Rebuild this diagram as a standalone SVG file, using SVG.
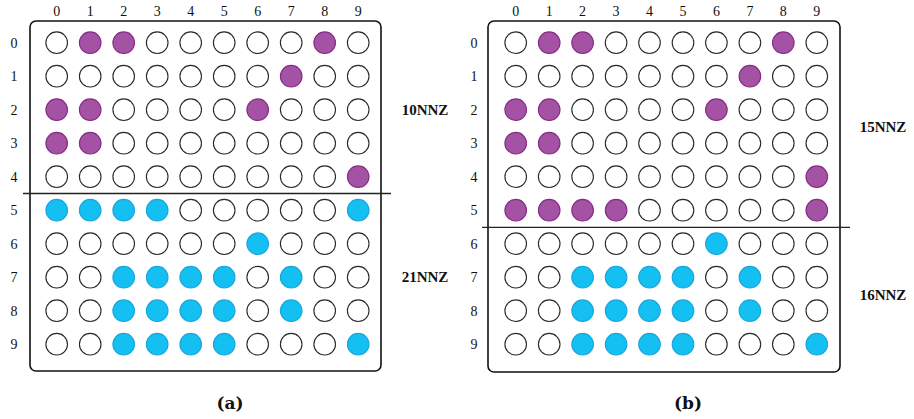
<svg xmlns="http://www.w3.org/2000/svg" width="914" height="419" viewBox="0 0 914 419">
<style>
.e{fill:#fff;stroke:#2a2a2a;stroke-width:1.1}
.p{fill:#A452A4;stroke:#862A86;stroke-width:1.1}
.c{fill:#14BFF2;stroke:#1BA6DA;stroke-width:1.1}
.frame{fill:none;stroke:#111;stroke-width:1.6}
.div{stroke:#222;stroke-width:1.3}
.lbl text{font-family:"Liberation Serif",serif;font-size:14px;fill:#111;text-anchor:middle}
.nnz{font-family:"Liberation Serif",serif;font-size:15px;font-weight:bold;fill:#111;text-anchor:middle}
.cap{font-family:"DejaVu Serif",serif;font-size:17px;font-weight:bold;fill:#111;text-anchor:middle}
</style>
<defs>
<circle id="o" r="10.8"/>
</defs>
<g id="panel-a">
<rect class="frame" x="30" y="21" width="351" height="350" rx="6"/>
<g class="lbl">
<text x="56.7" y="16">0</text><text x="90.2" y="16">1</text><text x="123.7" y="16">2</text><text x="157.2" y="16">3</text><text x="190.7" y="16">4</text><text x="224.2" y="16">5</text><text x="257.7" y="16">6</text><text x="291.2" y="16">7</text><text x="324.7" y="16">8</text><text x="358.2" y="16">9</text>
<text x="14" y="47.5">0</text><text x="14" y="81">1</text><text x="14" y="114.5">2</text><text x="14" y="148">3</text><text x="14" y="181.5">4</text><text x="14" y="215">5</text><text x="14" y="248.5">6</text><text x="14" y="282">7</text><text x="14" y="315.5">8</text><text x="14" y="349">9</text>
</g>
<g id="a-r0" transform="translate(0,42.7)"><use href="#o" class="e" x="56.7"/><use href="#o" class="p" x="90.2"/><use href="#o" class="p" x="123.7"/><use href="#o" class="e" x="157.2"/><use href="#o" class="e" x="190.7"/><use href="#o" class="e" x="224.2"/><use href="#o" class="e" x="257.7"/><use href="#o" class="e" x="291.2"/><use href="#o" class="p" x="324.7"/><use href="#o" class="e" x="358.2"/></g>
<g id="a-r1" transform="translate(0,76.2)"><use href="#o" class="e" x="56.7"/><use href="#o" class="e" x="90.2"/><use href="#o" class="e" x="123.7"/><use href="#o" class="e" x="157.2"/><use href="#o" class="e" x="190.7"/><use href="#o" class="e" x="224.2"/><use href="#o" class="e" x="257.7"/><use href="#o" class="p" x="291.2"/><use href="#o" class="e" x="324.7"/><use href="#o" class="e" x="358.2"/></g>
<g id="a-r2" transform="translate(0,109.7)"><use href="#o" class="p" x="56.7"/><use href="#o" class="p" x="90.2"/><use href="#o" class="e" x="123.7"/><use href="#o" class="e" x="157.2"/><use href="#o" class="e" x="190.7"/><use href="#o" class="e" x="224.2"/><use href="#o" class="p" x="257.7"/><use href="#o" class="e" x="291.2"/><use href="#o" class="e" x="324.7"/><use href="#o" class="e" x="358.2"/></g>
<g id="a-r3" transform="translate(0,143.2)"><use href="#o" class="p" x="56.7"/><use href="#o" class="p" x="90.2"/><use href="#o" class="e" x="123.7"/><use href="#o" class="e" x="157.2"/><use href="#o" class="e" x="190.7"/><use href="#o" class="e" x="224.2"/><use href="#o" class="e" x="257.7"/><use href="#o" class="e" x="291.2"/><use href="#o" class="e" x="324.7"/><use href="#o" class="e" x="358.2"/></g>
<g id="a-r4" transform="translate(0,176.7)"><use href="#o" class="e" x="56.7"/><use href="#o" class="e" x="90.2"/><use href="#o" class="e" x="123.7"/><use href="#o" class="e" x="157.2"/><use href="#o" class="e" x="190.7"/><use href="#o" class="e" x="224.2"/><use href="#o" class="e" x="257.7"/><use href="#o" class="e" x="291.2"/><use href="#o" class="e" x="324.7"/><use href="#o" class="p" x="358.2"/></g>
<g id="a-r5" transform="translate(0,210.2)"><use href="#o" class="c" x="56.7"/><use href="#o" class="c" x="90.2"/><use href="#o" class="c" x="123.7"/><use href="#o" class="c" x="157.2"/><use href="#o" class="e" x="190.7"/><use href="#o" class="e" x="224.2"/><use href="#o" class="e" x="257.7"/><use href="#o" class="e" x="291.2"/><use href="#o" class="e" x="324.7"/><use href="#o" class="c" x="358.2"/></g>
<g id="a-r6" transform="translate(0,243.7)"><use href="#o" class="e" x="56.7"/><use href="#o" class="e" x="90.2"/><use href="#o" class="e" x="123.7"/><use href="#o" class="e" x="157.2"/><use href="#o" class="e" x="190.7"/><use href="#o" class="e" x="224.2"/><use href="#o" class="c" x="257.7"/><use href="#o" class="e" x="291.2"/><use href="#o" class="e" x="324.7"/><use href="#o" class="e" x="358.2"/></g>
<g id="a-r7" transform="translate(0,277.2)"><use href="#o" class="e" x="56.7"/><use href="#o" class="e" x="90.2"/><use href="#o" class="c" x="123.7"/><use href="#o" class="c" x="157.2"/><use href="#o" class="c" x="190.7"/><use href="#o" class="c" x="224.2"/><use href="#o" class="e" x="257.7"/><use href="#o" class="c" x="291.2"/><use href="#o" class="e" x="324.7"/><use href="#o" class="e" x="358.2"/></g>
<g id="a-r8" transform="translate(0,310.7)"><use href="#o" class="e" x="56.7"/><use href="#o" class="e" x="90.2"/><use href="#o" class="c" x="123.7"/><use href="#o" class="c" x="157.2"/><use href="#o" class="c" x="190.7"/><use href="#o" class="c" x="224.2"/><use href="#o" class="e" x="257.7"/><use href="#o" class="c" x="291.2"/><use href="#o" class="e" x="324.7"/><use href="#o" class="e" x="358.2"/></g>
<g id="a-r9" transform="translate(0,344.2)"><use href="#o" class="e" x="56.7"/><use href="#o" class="e" x="90.2"/><use href="#o" class="c" x="123.7"/><use href="#o" class="c" x="157.2"/><use href="#o" class="c" x="190.7"/><use href="#o" class="c" x="224.2"/><use href="#o" class="e" x="257.7"/><use href="#o" class="e" x="291.2"/><use href="#o" class="e" x="324.7"/><use href="#o" class="c" x="358.2"/></g>
<line class="div" x1="23" y1="193.5" x2="391" y2="193.5"/>
<text class="nnz" x="425" y="115">10NNZ</text>
<text class="nnz" x="425" y="282">21NNZ</text>
<text class="cap" x="230" y="409">(a)</text>
</g>
<g id="panel-b">
<rect class="frame" x="488" y="21" width="352" height="351" rx="6"/>
<g class="lbl">
<text x="515.7" y="16">0</text><text x="549.2" y="16">1</text><text x="582.6" y="16">2</text><text x="616.1" y="16">3</text><text x="649.5" y="16">4</text><text x="683" y="16">5</text><text x="716.4" y="16">6</text><text x="749.9" y="16">7</text><text x="783.3" y="16">8</text><text x="816.8" y="16">9</text>
<text x="474" y="47.5">0</text><text x="474" y="81">1</text><text x="474" y="114.5">2</text><text x="474" y="148">3</text><text x="474" y="181.5">4</text><text x="474" y="215">5</text><text x="474" y="248.5">6</text><text x="474" y="282">7</text><text x="474" y="315.5">8</text><text x="474" y="349">9</text>
</g>
<g id="b-r0" transform="translate(0,42.7)"><use href="#o" class="e" x="515.7"/><use href="#o" class="p" x="549.2"/><use href="#o" class="p" x="582.6"/><use href="#o" class="e" x="616.1"/><use href="#o" class="e" x="649.5"/><use href="#o" class="e" x="683"/><use href="#o" class="e" x="716.4"/><use href="#o" class="e" x="749.9"/><use href="#o" class="p" x="783.3"/><use href="#o" class="e" x="816.8"/></g>
<g id="b-r1" transform="translate(0,76.2)"><use href="#o" class="e" x="515.7"/><use href="#o" class="e" x="549.2"/><use href="#o" class="e" x="582.6"/><use href="#o" class="e" x="616.1"/><use href="#o" class="e" x="649.5"/><use href="#o" class="e" x="683"/><use href="#o" class="e" x="716.4"/><use href="#o" class="p" x="749.9"/><use href="#o" class="e" x="783.3"/><use href="#o" class="e" x="816.8"/></g>
<g id="b-r2" transform="translate(0,109.7)"><use href="#o" class="p" x="515.7"/><use href="#o" class="p" x="549.2"/><use href="#o" class="e" x="582.6"/><use href="#o" class="e" x="616.1"/><use href="#o" class="e" x="649.5"/><use href="#o" class="e" x="683"/><use href="#o" class="p" x="716.4"/><use href="#o" class="e" x="749.9"/><use href="#o" class="e" x="783.3"/><use href="#o" class="e" x="816.8"/></g>
<g id="b-r3" transform="translate(0,143.2)"><use href="#o" class="p" x="515.7"/><use href="#o" class="p" x="549.2"/><use href="#o" class="e" x="582.6"/><use href="#o" class="e" x="616.1"/><use href="#o" class="e" x="649.5"/><use href="#o" class="e" x="683"/><use href="#o" class="e" x="716.4"/><use href="#o" class="e" x="749.9"/><use href="#o" class="e" x="783.3"/><use href="#o" class="e" x="816.8"/></g>
<g id="b-r4" transform="translate(0,176.7)"><use href="#o" class="e" x="515.7"/><use href="#o" class="e" x="549.2"/><use href="#o" class="e" x="582.6"/><use href="#o" class="e" x="616.1"/><use href="#o" class="e" x="649.5"/><use href="#o" class="e" x="683"/><use href="#o" class="e" x="716.4"/><use href="#o" class="e" x="749.9"/><use href="#o" class="e" x="783.3"/><use href="#o" class="p" x="816.8"/></g>
<g id="b-r5" transform="translate(0,210.2)"><use href="#o" class="p" x="515.7"/><use href="#o" class="p" x="549.2"/><use href="#o" class="p" x="582.6"/><use href="#o" class="p" x="616.1"/><use href="#o" class="e" x="649.5"/><use href="#o" class="e" x="683"/><use href="#o" class="e" x="716.4"/><use href="#o" class="e" x="749.9"/><use href="#o" class="e" x="783.3"/><use href="#o" class="p" x="816.8"/></g>
<g id="b-r6" transform="translate(0,243.7)"><use href="#o" class="e" x="515.7"/><use href="#o" class="e" x="549.2"/><use href="#o" class="e" x="582.6"/><use href="#o" class="e" x="616.1"/><use href="#o" class="e" x="649.5"/><use href="#o" class="e" x="683"/><use href="#o" class="c" x="716.4"/><use href="#o" class="e" x="749.9"/><use href="#o" class="e" x="783.3"/><use href="#o" class="e" x="816.8"/></g>
<g id="b-r7" transform="translate(0,277.2)"><use href="#o" class="e" x="515.7"/><use href="#o" class="e" x="549.2"/><use href="#o" class="c" x="582.6"/><use href="#o" class="c" x="616.1"/><use href="#o" class="c" x="649.5"/><use href="#o" class="c" x="683"/><use href="#o" class="e" x="716.4"/><use href="#o" class="c" x="749.9"/><use href="#o" class="e" x="783.3"/><use href="#o" class="e" x="816.8"/></g>
<g id="b-r8" transform="translate(0,310.7)"><use href="#o" class="e" x="515.7"/><use href="#o" class="e" x="549.2"/><use href="#o" class="c" x="582.6"/><use href="#o" class="c" x="616.1"/><use href="#o" class="c" x="649.5"/><use href="#o" class="c" x="683"/><use href="#o" class="e" x="716.4"/><use href="#o" class="c" x="749.9"/><use href="#o" class="e" x="783.3"/><use href="#o" class="e" x="816.8"/></g>
<g id="b-r9" transform="translate(0,344.2)"><use href="#o" class="e" x="515.7"/><use href="#o" class="e" x="549.2"/><use href="#o" class="c" x="582.6"/><use href="#o" class="c" x="616.1"/><use href="#o" class="c" x="649.5"/><use href="#o" class="c" x="683"/><use href="#o" class="e" x="716.4"/><use href="#o" class="e" x="749.9"/><use href="#o" class="e" x="783.3"/><use href="#o" class="c" x="816.8"/></g>
<line class="div" x1="482" y1="227.3" x2="850" y2="227.3"/>
<text class="nnz" x="883" y="132">15NNZ</text>
<text class="nnz" x="883" y="300">16NNZ</text>
<text class="cap" x="688" y="409">(b)</text>
</g>
</svg>
